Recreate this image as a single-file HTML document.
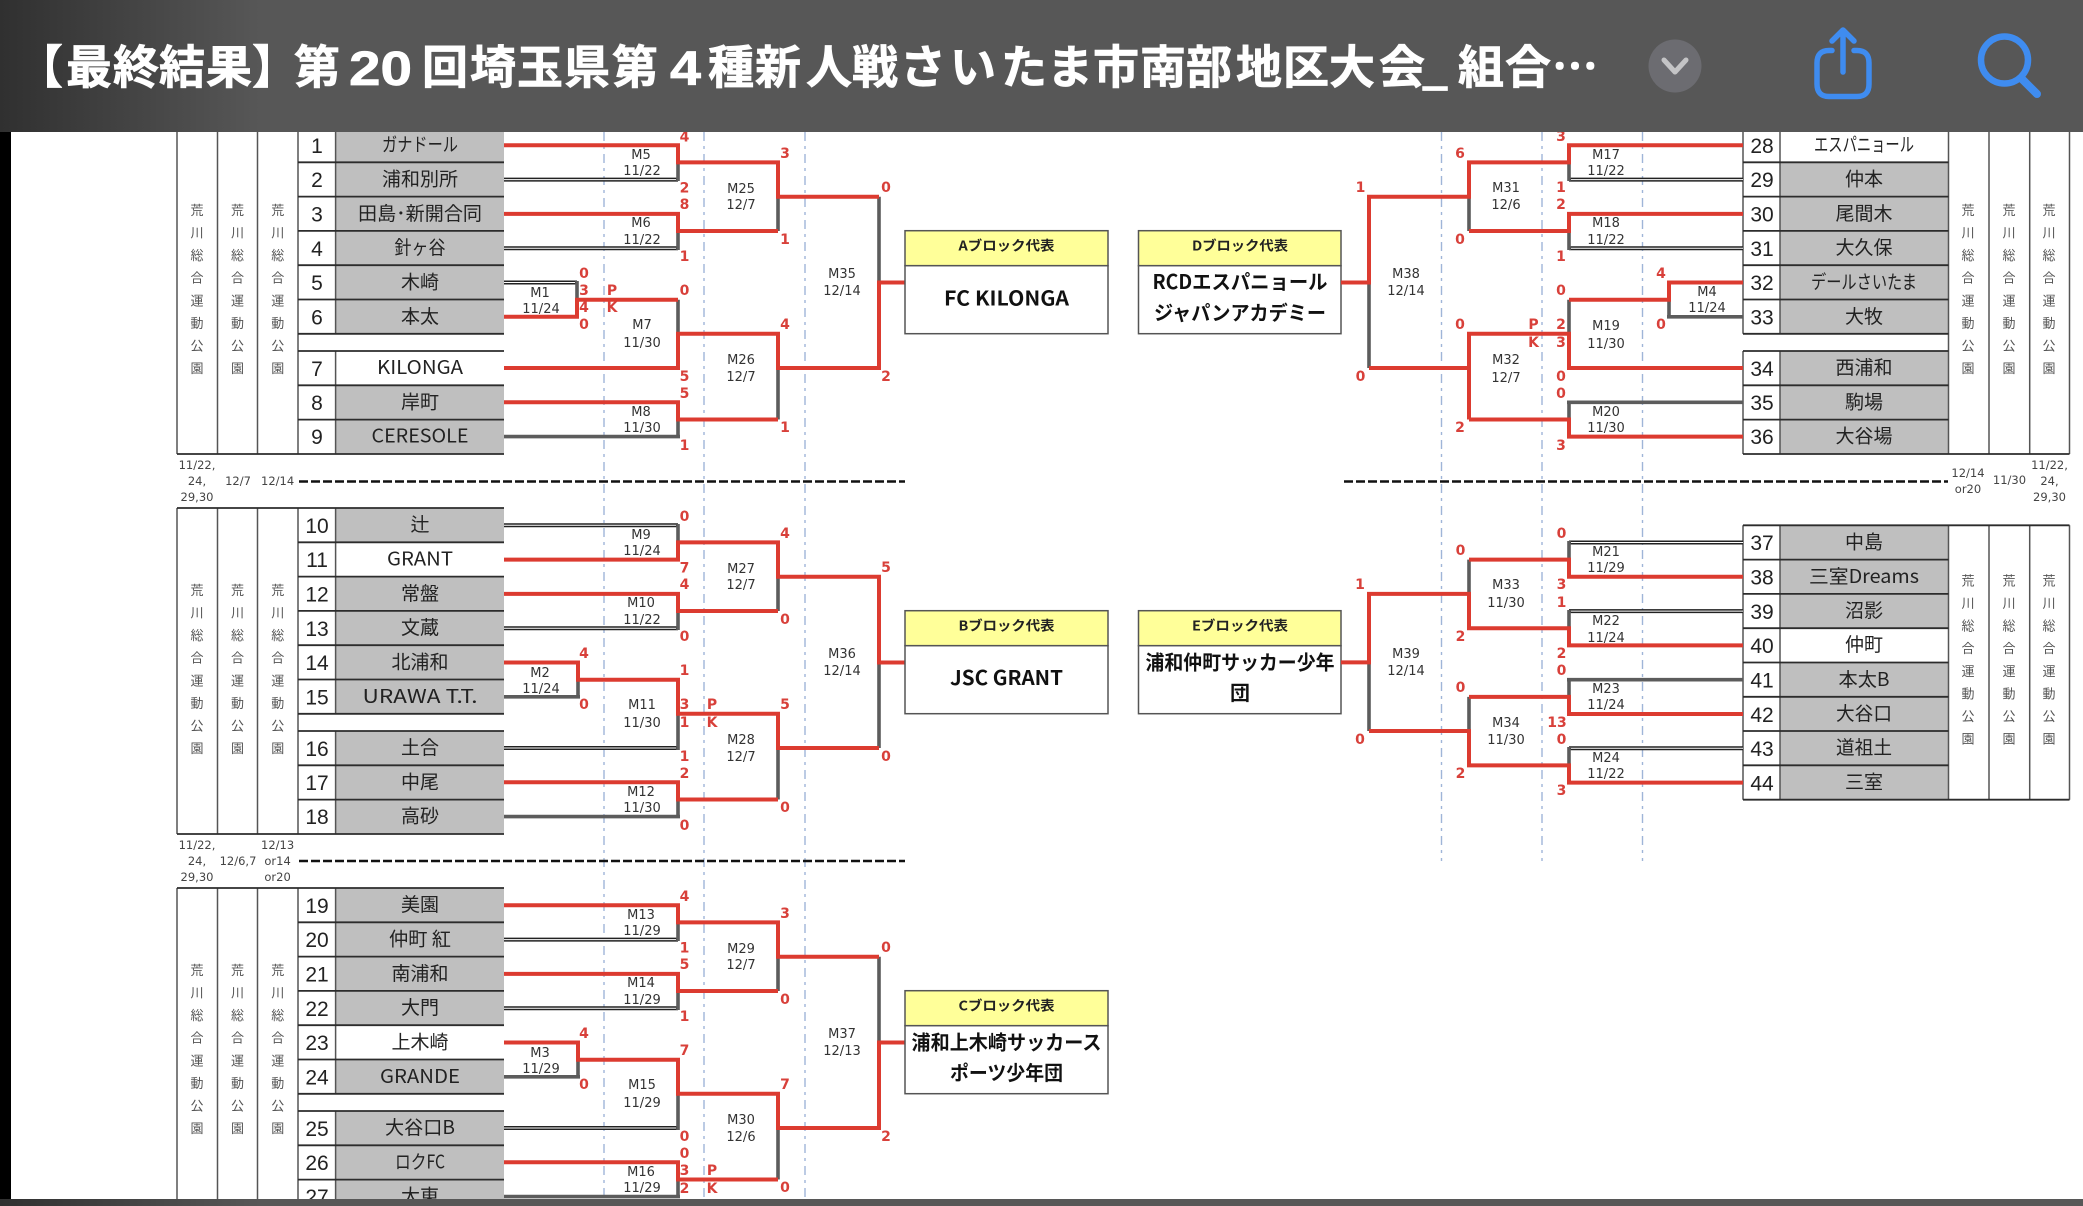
<!DOCTYPE html>
<html lang="ja"><head><meta charset="utf-8"><title>組合せ</title>
<style>
html,body{margin:0;padding:0;background:#fff;width:2083px;height:1206px;overflow:hidden}
svg{display:block}
text{font-family:"Liberation Sans","Noto Sans CJK JP",sans-serif}
.t{font-family:"Noto Sans CJK JP",sans-serif;font-weight:700;font-size:46px;fill:#fff;stroke:#fff;stroke-width:.7}
.td{font-family:"Liberation Sans",sans-serif;font-weight:700;font-size:48px;fill:#fff;stroke:#fff;stroke-width:.7}
.n{font-family:"Liberation Sans",sans-serif;font-size:21px;fill:#222;text-anchor:middle;transform:translateY(.8px)}
.c{font-family:"Noto Sans CJK JP",sans-serif;font-size:19px;fill:#222;text-anchor:middle;transform:translateY(-1px)}
.l{font-family:"DejaVu Sans",sans-serif;font-size:13px;fill:#333;text-anchor:middle}
.s{font-family:"DejaVu Sans",sans-serif;font-weight:700;font-size:14px;fill:#d8403a;text-anchor:middle}
.v{font-family:"Noto Sans CJK JP",sans-serif;font-size:13px;fill:#555;writing-mode:vertical-rl;letter-spacing:9.6px}
.x{font-family:"DejaVu Sans",sans-serif;font-size:11.5px;fill:#444;text-anchor:middle}
.h{font-family:"Noto Sans CJK JP",sans-serif;font-weight:700;font-size:13.5px;fill:#222;text-anchor:middle}
.b{font-family:"Noto Sans CJK JP",sans-serif;font-weight:700;font-size:20px;fill:#111;text-anchor:middle}
.r,.g,.d,.w,.f,.fd,.bl,.dash{fill:none}
.r{stroke:#dc3b30;stroke-width:4}
.g{stroke:#5c5c5c;stroke-width:3.6}
.d{stroke:#222;stroke-width:4}
.w{stroke:#fff;stroke-width:1}
.f{stroke:#555;stroke-width:1.5}
.fd{stroke:#2c2c2c;stroke-width:1.8}
.bl{stroke:#9fb5d8;stroke-width:1.4;stroke-dasharray:9 5 3 5}
.dash{stroke:#111;stroke-width:2.6;stroke-dasharray:9 3}
</style></head><body>
<svg width="2083" height="1206" viewBox="0 0 2083 1206" xmlns="http://www.w3.org/2000/svg">
<defs>
<linearGradient id="hg" gradientUnits="userSpaceOnUse" x1="0" y1="0" x2="260" y2="0"><stop offset="0" stop-color="#303030"/><stop offset="1" stop-color="#575757"/></linearGradient>
</defs>
<rect width="2083" height="1206" fill="#fff"/>
<rect x="0" y="130" width="11" height="1072" fill="#000"/>

<!-- dashed verticals -->
<path class="bl" d="M604,132V1200M704,132V1200M805,132V1200M1441.5,132V861M1542,132V861M1642.5,132V861"/>
<path class="dash" d="M299,481.5H905M299,861H905M1344,481.5H1948"/>

<!-- BLOCK A -->
<g id="A">
<rect x="335.6" y="128" width="168.4" height="205.8" fill="#bfbfbf"/><rect x="335.6" y="351" width="168.4" height="103" fill="#bfbfbf"/>
<rect x="335.6" y="351" width="168.4" height="34.3" fill="#fff"/>
<path class="f" d="M177,128V454M217.5,128V454M257.5,128V454M298,128V454M335.6,128V333.8M335.6,351V454"/>
<path class="fd" d="M177,454H504M298,162.3H504M298,196.6H504M298,230.9H504M298,265.2H504M298,299.5H504M298,333.8H504M298,351H504M298,385.3H504M298,419.6H504"/>
<path class="d" d="M504,179.6H678M504,248.2H678M504,282.5H577"/><path class="w" d="M504,179.6H676M504,248.2H676M504,282.5H575"/>
<path class="g" d="M504,436.6H680M678,162.4V181M678,231V250M577,281V299.7M678,299.7V333.8M678,419.5V438M778,196.7V231M778,368V419.5M879,196.7V282.5"/>
<path class="r" d="M504,145.3H678V162.4H778V196.7H879M504,213.9H678V231H778M504,316.8H577V299.7H678M504,368H678V333.8H778V368H879V282.5H905M504,402.3H678V419.5H778"/>
<g class="nums">
<text class="n" x="317" y="152">1</text><text class="n" x="317" y="186">2</text><text class="n" x="317" y="220.5">3</text><text class="n" x="317" y="255">4</text><text class="n" x="317" y="289">5</text><text class="n" x="317" y="323.5">6</text><text class="n" x="317" y="375">7</text><text class="n" x="317" y="409">8</text><text class="n" x="317" y="443">9</text>
</g>
<text class="c" x="420" y="152" textLength="76" lengthAdjust="spacingAndGlyphs">ガナドール</text>
<text class="c" x="420" y="186.5" textLength="76" lengthAdjust="spacingAndGlyphs">浦和別所</text>
<text class="c" x="420" y="221" textLength="124" lengthAdjust="spacingAndGlyphs">田島･新開合同</text>
<text class="c" x="420" y="255" textLength="51" lengthAdjust="spacingAndGlyphs">針ヶ谷</text>
<text class="c" x="420" y="289.5">木崎</text>
<text class="c" x="420" y="324">本太</text>
<text class="c" x="420" y="375" textLength="86" lengthAdjust="spacingAndGlyphs">KILONGA</text>
<text class="c" x="420" y="409.5">岸町</text>
<text class="c" x="420" y="443.5" textLength="97" lengthAdjust="spacingAndGlyphs">CERESOLE</text>
<g><text class="v" x="197" y="203.5">荒川総合運動公園</text><text class="v" x="237.5" y="203.5">荒川総合運動公園</text><text class="v" x="277.7" y="203.5">荒川総合運動公園</text></g>
<text class="x" x="197" y="469">11/22,</text><text class="x" x="197" y="485">24,</text><text class="x" x="197" y="501">29,30</text>
<text class="x" x="238" y="485">12/7</text><text class="x" x="277.6" y="485">12/14</text>
<text class="l" x="641" y="159">M5</text><text class="l" x="642" y="175">11/22</text>
<text class="l" x="641" y="227">M6</text><text class="l" x="642" y="244">11/22</text>
<text class="l" x="642" y="329">M7</text><text class="l" x="642" y="347">11/30</text>
<text class="l" x="641" y="416">M8</text><text class="l" x="642" y="432">11/30</text>
<text class="l" x="741" y="193">M25</text><text class="l" x="741" y="209">12/7</text>
<text class="l" x="741" y="364">M26</text><text class="l" x="741" y="381">12/7</text>
<text class="l" x="842" y="278">M35</text><text class="l" x="842" y="295">12/14</text>
<text class="l" x="540" y="297">M1</text><text class="l" x="541" y="313">11/24</text>
<g>
<text class="s" x="684.5" y="141.5">4</text><text class="s" x="684.5" y="192.5">2</text><text class="s" x="684.5" y="209">8</text><text class="s" x="684.5" y="261">1</text><text class="s" x="684.5" y="295">0</text><text class="s" x="684.5" y="381">5</text><text class="s" x="684.5" y="398">5</text><text class="s" x="684.5" y="450">1</text>
<text class="s" x="785" y="158">3</text><text class="s" x="785" y="244">1</text><text class="s" x="785" y="329">4</text><text class="s" x="785" y="432">1</text>
<text class="s" x="886" y="192">0</text><text class="s" x="886" y="381">2</text>
<text class="s" x="584" y="278">0</text><text class="s" x="584" y="295">3</text><text class="s" x="584" y="312">4</text><text class="s" x="584" y="329">0</text>
<text class="s" x="612" y="295">P</text><text class="s" x="612" y="312">K</text>
</g>
</g>

<!-- BLOCK B -->
<g id="B" transform="translate(0,380)">
<rect x="335.6" y="128" width="168.4" height="205.8" fill="#bfbfbf"/><rect x="335.6" y="351" width="168.4" height="103" fill="#bfbfbf"/>
<rect x="335.6" y="162.3" width="168.4" height="34.3" fill="#fff"/>
<path class="f" d="M177,128V454M217.5,128V454M257.5,128V454M298,128V454M335.6,128V333.8M335.6,351V454"/>
<path class="fd" d="M177,128H504M177,454H504M298,162.3H504M298,196.6H504M298,230.9H504M298,265.2H504M298,299.5H504M298,333.8H504M298,351H504M298,385.3H504M298,419.6H504"/>
<path class="d" d="M504,145.3H678M504,248.2H678M504,368H678"/><path class="w" d="M504,145.3H676M504,248.2H676M504,368H676"/>
<path class="g" d="M504,316.8H580M504,436.6H680M678,144V162.4M678,231V250M578,299.7V318M678,333.8V370M678,419.5V438M778,196.7V231M778,368V419.5M879,282.5V368"/>
<path class="r" d="M504,179.6H678V162.4H778V196.7H879V282.5H905M504,213.9H678V231H778M504,282.5H578V299.7H678V333.8H778V368H879M504,402.3H678V419.5H778"/>
<text class="n" x="317" y="152">10</text><text class="n" x="317" y="186">11</text><text class="n" x="317" y="220.5">12</text><text class="n" x="317" y="255">13</text><text class="n" x="317" y="289">14</text><text class="n" x="317" y="323.5">15</text><text class="n" x="317" y="375">16</text><text class="n" x="317" y="409">17</text><text class="n" x="317" y="443">18</text>
<text class="c" x="420" y="152">辻</text>
<text class="c" x="420" y="186.5" textLength="66" lengthAdjust="spacingAndGlyphs">GRANT</text>
<text class="c" x="420" y="221">常盤</text>
<text class="c" x="420" y="255">文蔵</text>
<text class="c" x="420" y="289.5">北浦和</text>
<text class="c" x="420" y="324" textLength="115" lengthAdjust="spacingAndGlyphs">URAWA T.T.</text>
<text class="c" x="420" y="375">土合</text>
<text class="c" x="420" y="409.5">中尾</text>
<text class="c" x="420" y="443.5">高砂</text>
<g><text class="v" x="197" y="203.5">荒川総合運動公園</text><text class="v" x="237.5" y="203.5">荒川総合運動公園</text><text class="v" x="277.7" y="203.5">荒川総合運動公園</text></g>
<text class="x" x="197" y="469">11/22,</text><text class="x" x="197" y="485">24,</text><text class="x" x="197" y="501">29,30</text>
<text class="x" x="238" y="485">12/6,7</text><text class="x" x="277.6" y="469">12/13</text><text class="x" x="277.6" y="485">or14</text><text class="x" x="277.6" y="501">or20</text>
<text class="l" x="641" y="159">M9</text><text class="l" x="642" y="175">11/24</text>
<text class="l" x="641" y="227">M10</text><text class="l" x="642" y="244">11/22</text>
<text class="l" x="642" y="329">M11</text><text class="l" x="642" y="347">11/30</text>
<text class="l" x="641" y="416">M12</text><text class="l" x="642" y="432">11/30</text>
<text class="l" x="741" y="193">M27</text><text class="l" x="741" y="209">12/7</text>
<text class="l" x="741" y="364">M28</text><text class="l" x="741" y="381">12/7</text>
<text class="l" x="842" y="278">M36</text><text class="l" x="842" y="295">12/14</text>
<text class="l" x="540" y="297">M2</text><text class="l" x="541" y="313">11/24</text>
<text class="s" x="684.5" y="141">0</text><text class="s" x="684.5" y="192.5">7</text><text class="s" x="684.5" y="209">4</text><text class="s" x="684.5" y="261">0</text><text class="s" x="684.5" y="295">1</text><text class="s" x="684.5" y="329">3</text><text class="s" x="684.5" y="347">1</text><text class="s" x="684.5" y="381">1</text><text class="s" x="684.5" y="398">2</text><text class="s" x="684.5" y="450">0</text>
<text class="s" x="785" y="158">4</text><text class="s" x="785" y="244">0</text><text class="s" x="785" y="329">5</text><text class="s" x="785" y="432">0</text>
<text class="s" x="886" y="192">5</text><text class="s" x="886" y="381">0</text>
<text class="s" x="584" y="278">4</text><text class="s" x="584" y="329">0</text>
<text class="s" x="712" y="329">P</text><text class="s" x="712" y="347">K</text>
</g>

<!-- BLOCK C -->
<g id="C" transform="translate(0,760)">
<rect x="335.6" y="128" width="168.4" height="205.8" fill="#bfbfbf"/><rect x="335.6" y="351" width="168.4" height="103" fill="#bfbfbf"/>
<rect x="335.6" y="265.2" width="168.4" height="34.3" fill="#fff"/>
<path class="f" d="M177,128V454M217.5,128V454M257.5,128V454M298,128V454M335.6,128V333.8M335.6,351V454"/>
<path class="fd" d="M177,128H504M298,162.3H504M298,196.6H504M298,230.9H504M298,265.2H504M298,299.5H504M298,333.8H504M298,351H504M298,385.3H504M298,419.6H504"/>
<path class="d" d="M504,179.6H678M504,248.2H678M504,368H678"/><path class="w" d="M504,179.6H676M504,248.2H676M504,368H676"/>
<path class="g" d="M504,316.8H580M504,436.6H680M678,162.4V181M678,231V250M578,299.7V318M678,333.8V370M678,419.5V438M778,196.7V231M778,368V419.5M879,196.7V282.5"/>
<path class="r" d="M504,145.3H678V162.4H778V196.7H879M504,213.9H678V231H778M504,282.5H578V299.7H678V333.8H778V368H879V282.5H905M504,402.3H678V419.5H778"/>
<text class="n" x="317" y="152">19</text><text class="n" x="317" y="186">20</text><text class="n" x="317" y="220.5">21</text><text class="n" x="317" y="255">22</text><text class="n" x="317" y="289">23</text><text class="n" x="317" y="323.5">24</text><text class="n" x="317" y="375">25</text><text class="n" x="317" y="409">26</text><text class="n" x="317" y="443">27</text>
<text class="c" x="420" y="152">美園</text>
<text class="c" x="420" y="186.5" textLength="62" lengthAdjust="spacingAndGlyphs">仲町 紅</text>
<text class="c" x="420" y="221">南浦和</text>
<text class="c" x="420" y="255">大門</text>
<text class="c" x="420" y="289.5">上木崎</text>
<text class="c" x="420" y="324" textLength="80" lengthAdjust="spacingAndGlyphs">GRANDE</text>
<text class="c" x="420" y="375" textLength="70" lengthAdjust="spacingAndGlyphs">大谷口B</text>
<text class="c" x="420" y="409.5" textLength="50" lengthAdjust="spacingAndGlyphs">ロクFC</text>
<text class="c" x="420" y="443.5">大東</text>
<g><text class="v" x="197" y="203.5">荒川総合運動公園</text><text class="v" x="237.5" y="203.5">荒川総合運動公園</text><text class="v" x="277.7" y="203.5">荒川総合運動公園</text></g>
<text class="l" x="641" y="159">M13</text><text class="l" x="642" y="175">11/29</text>
<text class="l" x="641" y="227">M14</text><text class="l" x="642" y="244">11/29</text>
<text class="l" x="642" y="329">M15</text><text class="l" x="642" y="347">11/29</text>
<text class="l" x="641" y="416">M16</text><text class="l" x="642" y="432">11/29</text>
<text class="l" x="741" y="193">M29</text><text class="l" x="741" y="209">12/7</text>
<text class="l" x="741" y="364">M30</text><text class="l" x="741" y="381">12/6</text>
<text class="l" x="842" y="278">M37</text><text class="l" x="842" y="295">12/13</text>
<text class="l" x="540" y="297">M3</text><text class="l" x="541" y="313">11/29</text>
<text class="s" x="684.5" y="141">4</text><text class="s" x="684.5" y="192.5">1</text><text class="s" x="684.5" y="209">5</text><text class="s" x="684.5" y="261">1</text><text class="s" x="684.5" y="295">7</text><text class="s" x="684.5" y="381">0</text><text class="s" x="684.5" y="398">0</text><text class="s" x="684.5" y="415">3</text><text class="s" x="684.5" y="433">2</text>
<text class="s" x="785" y="158">3</text><text class="s" x="785" y="244">0</text><text class="s" x="785" y="329">7</text><text class="s" x="785" y="432">0</text>
<text class="s" x="886" y="192">0</text><text class="s" x="886" y="381">2</text>
<text class="s" x="584" y="278">4</text><text class="s" x="584" y="329">0</text>
<text class="s" x="712" y="415">P</text><text class="s" x="712" y="433">K</text>
</g>

<!-- WINNER BOXES -->
<g>
<rect x="905" y="230.7" width="203" height="35" fill="#ffff99" stroke="#555" stroke-width="1.5"/><rect x="905" y="265.7" width="203" height="68" fill="#fff" stroke="#555" stroke-width="1.5"/>
<text class="h" x="1006.5" y="250.5" textLength="96" lengthAdjust="spacingAndGlyphs">Aブロック代表</text>
<text class="b" x="1006.5" y="305.5" textLength="125" lengthAdjust="spacingAndGlyphs">FC KILONGA</text>
<rect x="905" y="610.7" width="203" height="35" fill="#ffff99" stroke="#555" stroke-width="1.5"/><rect x="905" y="645.7" width="203" height="68" fill="#fff" stroke="#555" stroke-width="1.5"/>
<text class="h" x="1006.5" y="630.5" textLength="96" lengthAdjust="spacingAndGlyphs">Bブロック代表</text>
<text class="b" x="1006.5" y="685" textLength="113" lengthAdjust="spacingAndGlyphs">JSC GRANT</text>
<rect x="905" y="990.7" width="203" height="35" fill="#ffff99" stroke="#555" stroke-width="1.5"/><rect x="905" y="1025.7" width="203" height="68" fill="#fff" stroke="#555" stroke-width="1.5"/>
<text class="h" x="1006.5" y="1010.5" textLength="96" lengthAdjust="spacingAndGlyphs">Cブロック代表</text>
<text class="b" x="1006.5" y="1049.5" textLength="190" lengthAdjust="spacingAndGlyphs">浦和上木崎サッカース</text>
<text class="b" x="1006.5" y="1080" textLength="113" lengthAdjust="spacingAndGlyphs">ポーツ少年団</text>
<rect x="1138.5" y="230.7" width="202.5" height="35" fill="#ffff99" stroke="#555" stroke-width="1.5"/><rect x="1138.5" y="265.7" width="202.5" height="68" fill="#fff" stroke="#555" stroke-width="1.5"/>
<text class="h" x="1240" y="250.5" textLength="96" lengthAdjust="spacingAndGlyphs">Dブロック代表</text>
<text class="b" x="1240" y="289" textLength="175" lengthAdjust="spacingAndGlyphs">RCDエスパニョール</text>
<text class="b" x="1240" y="320" textLength="172" lengthAdjust="spacingAndGlyphs">ジャパンアカデミー</text>
<rect x="1138.5" y="610.7" width="202.5" height="35" fill="#ffff99" stroke="#555" stroke-width="1.5"/><rect x="1138.5" y="645.7" width="202.5" height="68" fill="#fff" stroke="#555" stroke-width="1.5"/>
<text class="h" x="1240" y="630.5" textLength="96" lengthAdjust="spacingAndGlyphs">Eブロック代表</text>
<text class="b" x="1240" y="669.5" textLength="189" lengthAdjust="spacingAndGlyphs">浦和仲町サッカー少年</text>
<text class="b" x="1240" y="700">団</text>
</g>

<!-- BLOCK D -->
<g id="D">
<rect x="1780" y="128" width="168.5" height="205.8" fill="#bfbfbf"/><rect x="1780" y="351" width="168.5" height="103" fill="#bfbfbf"/>
<rect x="1780" y="128" width="168.5" height="34.3" fill="#fff"/>
<path class="f" d="M1743,128V333.8M1743,351V454M1780,128V333.8M1780,351V454M1948.5,128V454M1989,128V454M2029.7,128V454M2069.5,128V454"/>
<path class="fd" d="M1743,454H2069.5M1743,162.3H1948.5M1743,196.6H1948.5M1743,230.9H1948.5M1743,265.2H1948.5M1743,299.5H1948.5M1743,333.8H1948.5M1743,351H1948.5M1743,385.3H1948.5M1743,419.6H1948.5"/>
<path class="d" d="M1743,179.6H1569M1743,248.2H1569"/><path class="w" d="M1743,179.6H1571M1743,248.2H1571"/>
<path class="g" d="M1743,316.8H1667M1743,402.3H1567M1569,162.4V181M1569,231V250M1669,299.7V318.5M1569,299.7V333.8M1569,401V419.5M1469,196.7V231M1369,282.5V368"/>
<path class="r" d="M1743,145.3H1569V162.4H1469V196.7H1369V282.5H1341M1743,213.9H1569V231H1469M1743,282.5H1669V299.7H1569M1743,368H1569V333.8H1469V419.5M1469,368H1369M1743,436.6H1569V419.5H1469"/>
<text class="n" x="1762" y="152">28</text><text class="n" x="1762" y="186">29</text><text class="n" x="1762" y="220.5">30</text><text class="n" x="1762" y="255">31</text><text class="n" x="1762" y="289">32</text><text class="n" x="1762" y="323.5">33</text><text class="n" x="1762" y="375">34</text><text class="n" x="1762" y="409">35</text><text class="n" x="1762" y="443">36</text>
<text class="c" x="1864" y="152" textLength="100" lengthAdjust="spacingAndGlyphs">エスパニョール</text>
<text class="c" x="1864" y="186.5">仲本</text>
<text class="c" x="1864" y="221">尾間木</text>
<text class="c" x="1864" y="255">大久保</text>
<text class="c" x="1864" y="289.5" textLength="106" lengthAdjust="spacingAndGlyphs">デールさいたま</text>
<text class="c" x="1864" y="324">大牧</text>
<text class="c" x="1864" y="375">西浦和</text>
<text class="c" x="1864" y="409.5">駒場</text>
<text class="c" x="1864" y="443.5">大谷場</text>
<g><text class="v" x="1968" y="203.5">荒川総合運動公園</text><text class="v" x="2009" y="203.5">荒川総合運動公園</text><text class="v" x="2049" y="203.5">荒川総合運動公園</text></g>
<text class="x" x="1968" y="477">12/14</text><text class="x" x="1968" y="493">or20</text><text class="x" x="2009.5" y="484">11/30</text>
<text class="x" x="2049.5" y="469">11/22,</text><text class="x" x="2049.5" y="485">24,</text><text class="x" x="2049.5" y="501">29,30</text>
<text class="l" x="1606" y="159">M17</text><text class="l" x="1606" y="175">11/22</text>
<text class="l" x="1606" y="227">M18</text><text class="l" x="1606" y="244">11/22</text>
<text class="l" x="1606" y="330">M19</text><text class="l" x="1606" y="348">11/30</text>
<text class="l" x="1606" y="416">M20</text><text class="l" x="1606" y="432">11/30</text>
<text class="l" x="1506" y="192">M31</text><text class="l" x="1506" y="209">12/6</text>
<text class="l" x="1506" y="364">M32</text><text class="l" x="1506" y="382">12/7</text>
<text class="l" x="1406" y="278">M38</text><text class="l" x="1406" y="295">12/14</text>
<text class="l" x="1707" y="296">M4</text><text class="l" x="1707" y="312">11/24</text>
<text class="s" x="1460" y="158">6</text><text class="s" x="1460" y="244">0</text><text class="s" x="1460" y="329">0</text><text class="s" x="1460" y="432">2</text>
<text class="s" x="1561" y="141">3</text><text class="s" x="1561" y="192">1</text><text class="s" x="1561" y="209">2</text><text class="s" x="1561" y="261">1</text><text class="s" x="1561" y="295">0</text><text class="s" x="1561" y="329">2</text><text class="s" x="1561" y="347">3</text><text class="s" x="1561" y="381">0</text><text class="s" x="1561" y="398">0</text><text class="s" x="1561" y="450">3</text>
<text class="s" x="1360.5" y="192">1</text><text class="s" x="1360.5" y="381">0</text>
<text class="s" x="1661" y="278">4</text><text class="s" x="1661" y="329">0</text>
<text class="s" x="1533.5" y="329">P</text><text class="s" x="1533.5" y="347">K</text>
</g>

<!-- BLOCK E -->
<g id="E">
<rect x="1780" y="525.3" width="168.5" height="274.4" fill="#bfbfbf"/>
<rect x="1780" y="628" width="168.5" height="34.3" fill="#fff"/>
<path class="f" d="M1743,525.3V799.7M1780,525.3V799.7M1948.5,525.3V799.7M1989,525.3V799.7M2029.7,525.3V799.7M2069.5,525.3V799.7"/>
<path class="fd" d="M1743,525.3H2069.5M1743,799.7H2069.5M1743,559.6H1948.5M1743,593.9H1948.5M1743,628.2H1948.5M1743,662.5H1948.5M1743,696.8H1948.5M1743,731H1948.5M1743,765.3H1948.5"/>
<path class="d" d="M1743,542.5H1569M1743,611.1H1569M1743,748.3H1569"/><path class="w" d="M1743,542.5H1571M1743,611.1H1571M1743,748.3H1571"/>
<path class="g" d="M1743,679.7H1567M1569,541V559.6M1569,610V628.2M1569,678V696.9M1569,747V765.4M1469,559.6V593.9M1469,696.9V731M1369,662.4V731"/>
<path class="r" d="M1743,576.8H1569V559.6H1469M1743,645.4H1569V628.2H1469V593.9H1369V662.4H1341M1743,714H1569V696.9H1469M1743,782.6H1569V765.4H1469V731H1369"/>
<text class="n" x="1762" y="549">37</text><text class="n" x="1762" y="583.5">38</text><text class="n" x="1762" y="618">39</text><text class="n" x="1762" y="652">40</text><text class="n" x="1762" y="686.5">41</text><text class="n" x="1762" y="721">42</text><text class="n" x="1762" y="755">43</text><text class="n" x="1762" y="789.5">44</text>
<text class="c" x="1864" y="549.5">中島</text>
<text class="c" x="1864" y="584" textLength="110" lengthAdjust="spacingAndGlyphs">三室Dreams</text>
<text class="c" x="1864" y="618">沼影</text>
<text class="c" x="1864" y="652">仲町</text>
<text class="c" x="1864" y="687" textLength="51" lengthAdjust="spacingAndGlyphs">本太B</text>
<text class="c" x="1864" y="721" textLength="56" lengthAdjust="spacingAndGlyphs">大谷口</text>
<text class="c" x="1864" y="755" textLength="56" lengthAdjust="spacingAndGlyphs">道祖土</text>
<text class="c" x="1864" y="789.5">三室</text>
<g><text class="v" x="1968" y="574">荒川総合運動公園</text><text class="v" x="2009" y="574">荒川総合運動公園</text><text class="v" x="2049" y="574">荒川総合運動公園</text></g>
<text class="l" x="1606" y="556">M21</text><text class="l" x="1606" y="572">11/29</text>
<text class="l" x="1606" y="625">M22</text><text class="l" x="1606" y="642">11/24</text>
<text class="l" x="1606" y="693">M23</text><text class="l" x="1606" y="709">11/24</text>
<text class="l" x="1606" y="762">M24</text><text class="l" x="1606" y="778">11/22</text>
<text class="l" x="1506" y="589">M33</text><text class="l" x="1506" y="607">11/30</text>
<text class="l" x="1506" y="727">M34</text><text class="l" x="1506" y="744">11/30</text>
<text class="l" x="1406" y="658">M39</text><text class="l" x="1406" y="675">12/14</text>
<text class="s" x="1561.5" y="538">0</text><text class="s" x="1561.5" y="589">3</text><text class="s" x="1561.5" y="607">1</text><text class="s" x="1561.5" y="658">2</text><text class="s" x="1561.5" y="675">0</text><text class="s" x="1557" y="727">13</text><text class="s" x="1561.5" y="744">0</text><text class="s" x="1561.5" y="795">3</text>
<text class="s" x="1460.5" y="555">0</text><text class="s" x="1460.5" y="641">2</text><text class="s" x="1460.5" y="692">0</text><text class="s" x="1460.5" y="778">2</text>
<text class="s" x="1360" y="589">1</text><text class="s" x="1360" y="744">0</text>
</g>

<!-- HEADER -->
<rect x="0" y="0" width="2083" height="132" fill="url(#hg)"/>
<rect x="0" y="1199" width="2083" height="7" fill="url(#hg)"/>
<text class="t" y="83.5" x="17 66 113 159 206 252 294">【最終結果】第</text>
<text class="td" y="85" x="349" textLength="63" lengthAdjust="spacingAndGlyphs">20</text>
<text class="t" y="83.5" x="422 470 517 564 612">回埼玉県第</text>
<text class="td" y="85" x="670" textLength="31" lengthAdjust="spacingAndGlyphs">4</text>
<text class="t" y="83.5" x="708 755 806 852 900 950 1001 1047 1093 1140 1186 1236 1283 1329 1379 1422 1458 1505 1552">種新人戦さいたま市南部地区大会_組合…</text>
<circle cx="1675" cy="66" r="26.5" fill="#6c6c71"/>
<path d="M1664,60L1675,72L1686,60" fill="none" stroke="#c4c4c6" stroke-width="5" stroke-linecap="round" stroke-linejoin="round"/>
<g fill="none" stroke="#3f8cf0" stroke-linecap="round" stroke-linejoin="round">
<path stroke-width="5.5" d="M1832,50.5H1829Q1817,50.5 1817,63V84Q1817,96.5 1829,96.5H1857Q1869,96.5 1869,84V63Q1869,50.5 1857,50.5H1854"/>
<path stroke-width="5.5" d="M1843,72V30M1832,41L1843,30L1854,41"/>
<circle cx="2004.5" cy="60" r="23.5" stroke-width="6.5"/>
<path stroke-width="8" d="M2021,78L2037,94"/>
</g>
</svg>
</body></html>
